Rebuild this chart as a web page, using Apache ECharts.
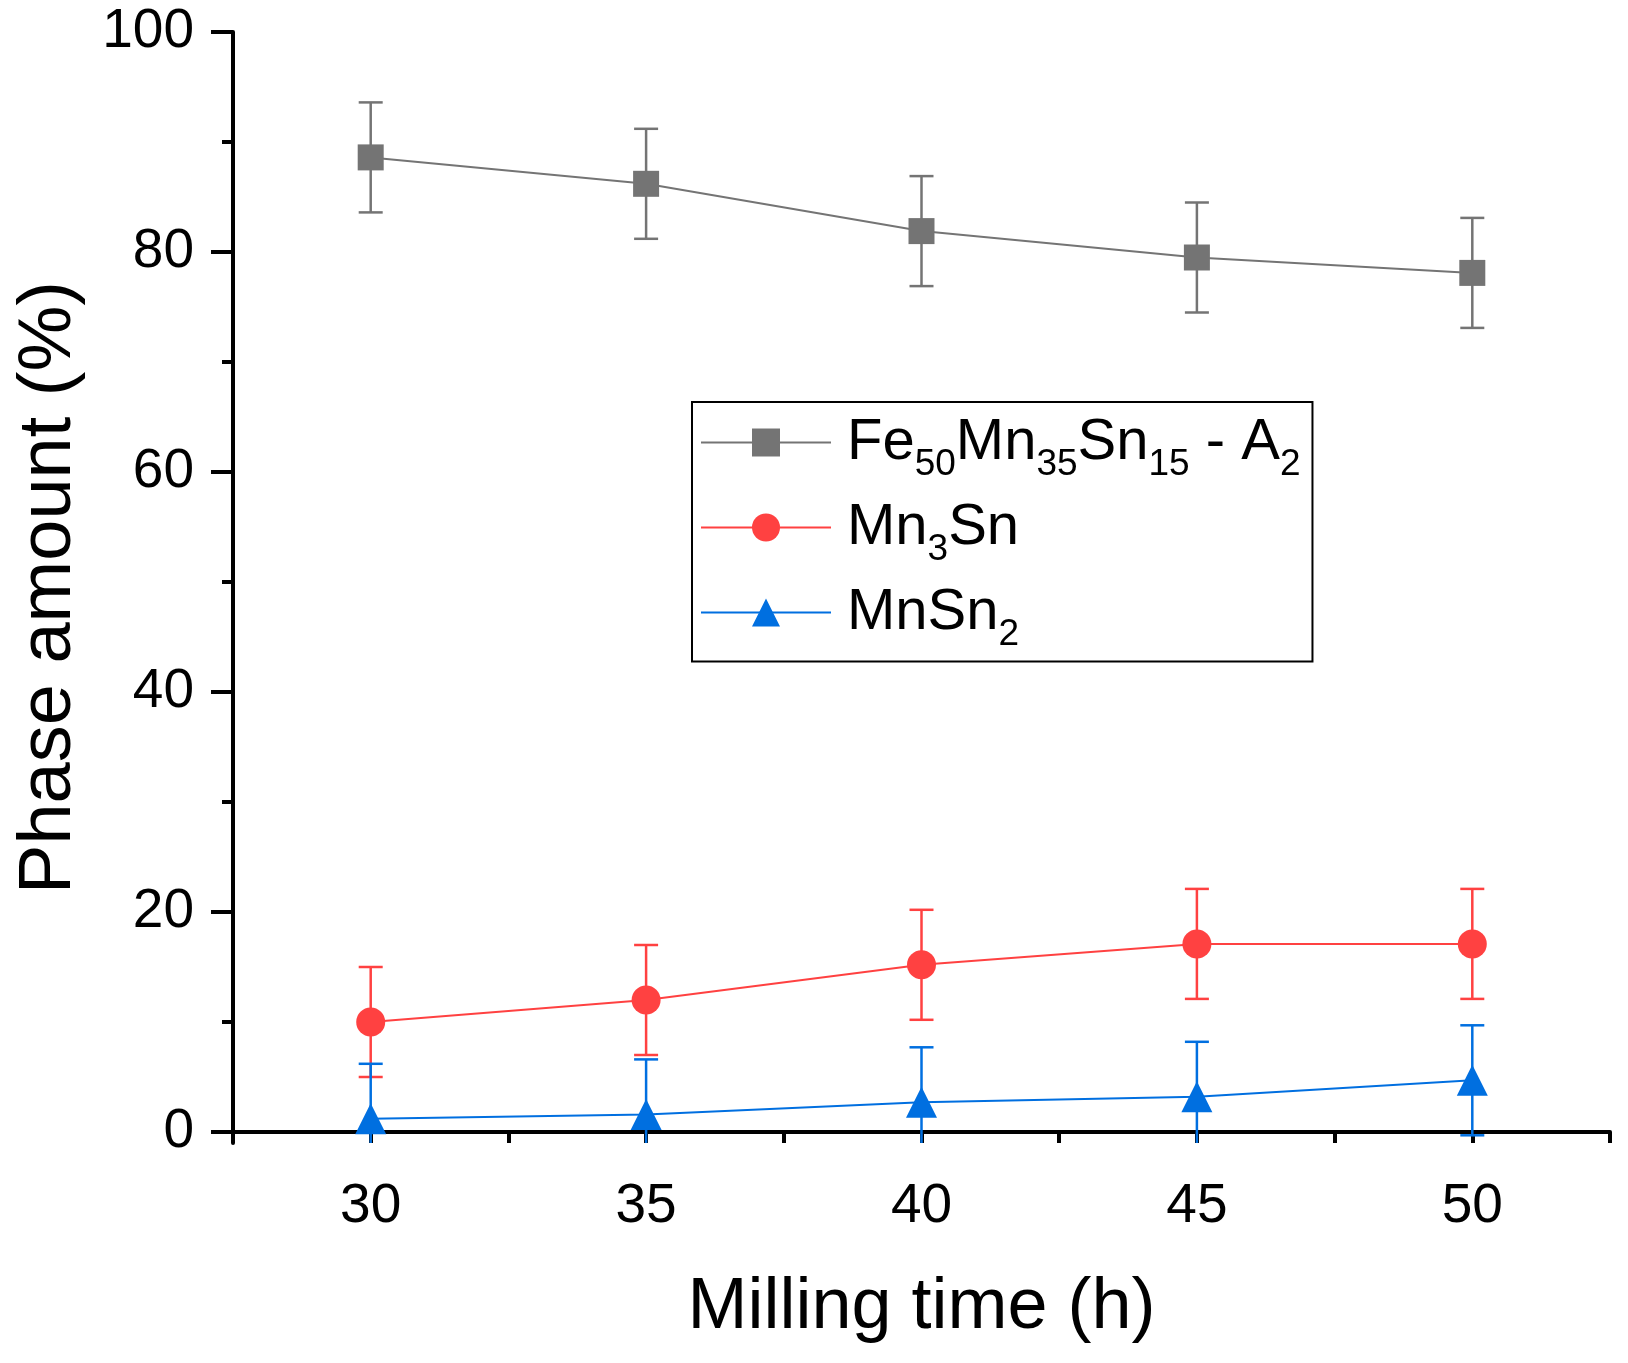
<!DOCTYPE html>
<html>
<head>
<meta charset="utf-8">
<title>Phase amount vs milling time</title>
<script src="https://cdn.jsdelivr.net/npm/echarts@6/dist/echarts.min.js"></script>
<style>
  html, body { margin: 0; padding: 0; background: #fff; }
  #main { width: 1628px; height: 1363px; }
</style>
</head>
<body>
<div id="main"></div>
<script>
// values
var millingTime = [30, 35, 40, 45, 50];
var xTickLabels = ['30', '35', '40', '45', '50'];
var a2Phase = [88.6, 86.2, 81.9, 79.5, 78.1];
var a2Error = [5, 5, 5, 5, 5];
var mn3sn = [10.0, 12.0, 15.2, 17.1, 17.1];
var mn3snError = [5, 5, 5, 5, 5];
var mnsn2 = [1.2, 1.6, 2.7, 3.2, 4.7];
var mnsn2Error = [5, 5, 5, 5, 5];

var seriesNames = ['Fe50Mn35Sn15 - A2', 'Mn3Sn', 'MnSn2'];
var legendText = {
    'Fe50Mn35Sn15 - A2': '{f|Fe}{s|50}{m|Mn}{s|35}{m|Sn}{s|15}{m| - A}{s|2}',
    'Mn3Sn': '{f|Mn}{s|3}{m|Sn}',
    'MnSn2': '{f|MnSn}{s|2}'
};
var colors = ['#747474', '#ff4141', '#006fe0'];
var symbols = ['rect', 'circle', 'triangle'];
var symbolSizes = [26, 29, 31];

var FONT = 'Liberation Sans, Arial, sans-serif';

var myChart = echarts.init(document.getElementById('main'));

var gridTop = 32, gridBottom = 220, gridLeft = 233, gridRight = 18;
var yMin = -1, yMax = 100;
var plotH = myChart.getHeight() - gridTop - gridBottom;
// second grid carries the 0..100 ticks, its bottom sits on y = 0 of the data grid
var tickGridBottom = gridBottom + plotH / (yMax - yMin) * (0 - yMin);

function pairs(v) {
    return millingTime.map(function (t, k) { return [t, v[k]]; });
}
function bars(v, e) {
    return millingTime.map(function (t, k) { return [t, v[k] - e[k], v[k] + e[k]]; });
}

function errorBar(params, api) {
    var x = api.value(0);
    var lo = api.coord([x, api.value(1)]);
    var hi = api.coord([x, api.value(2)]);
    var half = 12;
    var style = { stroke: api.visual('color'), lineWidth: 2.5 };
    return {
        type: 'group',
        children: [
            { type: 'line', shape: { x1: lo[0], y1: lo[1], x2: hi[0], y2: hi[1] }, style: style },
            { type: 'line', shape: { x1: lo[0] - half, y1: lo[1], x2: lo[0] + half, y2: lo[1] }, style: style },
            { type: 'line', shape: { x1: hi[0] - half, y1: hi[1], x2: hi[0] + half, y2: hi[1] }, style: style }
        ]
    };
}

var values = [a2Phase, mn3sn, mnsn2];
var errors = [a2Error, mn3snError, mnsn2Error];

var series = [];
values.forEach(function (v, i) {
    series.push({
        name: 'err' + i,
        type: 'custom',
        xAxisIndex: 0,
        yAxisIndex: 0,
        clip: true,
        z: 2,
        itemStyle: { color: colors[i] },
        encode: { x: 0, y: [1, 2] },
        renderItem: errorBar,
        data: bars(v, errors[i])
    });
});
values.forEach(function (v, i) {
    series.push({
        name: seriesNames[i],
        type: 'line',
        xAxisIndex: 0,
        yAxisIndex: 0,
        z: 3,
        symbol: symbols[i],
        symbolSize: symbolSizes[i],
        itemStyle: { color: colors[i] },
        lineStyle: { color: colors[i], width: 2 },
        data: pairs(v)
    });
});

option = {
    animation: false,
    backgroundColor: '#fff',
    textStyle: { fontFamily: FONT, color: '#000' },
    grid: [
        { left: gridLeft, right: gridRight, top: gridTop, bottom: gridBottom, outerBoundsMode: 'none' },
        { left: gridLeft, right: gridRight, top: gridTop, bottom: tickGridBottom, outerBoundsMode: 'none' }
    ],
    legend: {
        data: seriesNames,
        orient: 'vertical',
        left: 692,
        top: 402,
        padding: [11.5, 12, 8, 8],
        itemGap: 15,
        itemWidth: 130,
        itemHeight: 35,
        borderColor: '#000',
        borderWidth: 2,
        formatter: function (name) { return legendText[name]; },
        textStyle: {
            color: '#000',
            fontFamily: FONT,
            rich: {
                f: { fontSize: 58, lineHeight: 82, verticalAlign: 'middle', padding: [0, 0, 0, 11], fontFamily: FONT, color: '#000' },
                m: { fontSize: 58, lineHeight: 82, verticalAlign: 'middle', fontFamily: FONT, color: '#000' },
                s: { fontSize: 37, lineHeight: 40, verticalAlign: 'bottom', fontFamily: FONT, color: '#000' }
            }
        }
    },
    xAxis: [
        {
            type: 'value',
            gridIndex: 0,
            position: 'bottom',
            min: 27.5,
            max: 52.5,
            interval: 2.5,
            axisLine: { lineStyle: { color: '#000', width: 4 } },
            axisTick: { length: 11, lineStyle: { color: '#000', width: 4 } },
            axisLabel: { show: false },
            splitLine: { show: false }
        },
        {
            type: 'category',
            gridIndex: 0,
            position: 'bottom',
            data: xTickLabels,
            boundaryGap: true,
            axisLine: { show: false },
            axisTick: { alignWithLabel: true, length: 22, lineStyle: { color: '#000', width: 4 } },
            axisLabel: { fontSize: 55, margin: 36, color: '#000', fontFamily: FONT },
            splitLine: { show: false },
            name: 'Milling time (h)',
            nameLocation: 'middle',
            nameGap: 129,
            nameTextStyle: { fontSize: 72, color: '#000', fontFamily: FONT }
        },
        {
            type: 'value',
            gridIndex: 1,
            show: false,
            min: 0,
            max: 1
        }
    ],
    yAxis: [
        {
            type: 'value',
            gridIndex: 0,
            min: yMin,
            max: yMax,
            axisLine: { lineStyle: { color: '#000', width: 4 } },
            axisTick: { show: false },
            axisLabel: { show: false },
            splitLine: { show: false },
            name: 'Phase amount (%)',
            nameLocation: 'middle',
            nameGap: 146,
            nameTextStyle: { fontSize: 74, color: '#000', fontFamily: FONT }
        },
        {
            type: 'value',
            gridIndex: 1,
            min: 0,
            max: 100,
            interval: 20,
            axisLine: { show: false },
            axisTick: { length: 22, lineStyle: { color: '#000', width: 4 } },
            minorTick: { show: true, splitNumber: 2, length: 11, lineStyle: { color: '#000', width: 4 } },
            axisLabel: { fontSize: 55, margin: 39, color: '#000', fontFamily: FONT },
            splitLine: { show: false },
            minorSplitLine: { show: false }
        }
    ],
    series: series
};

myChart.setOption(option);
</script>
</body>
</html>
